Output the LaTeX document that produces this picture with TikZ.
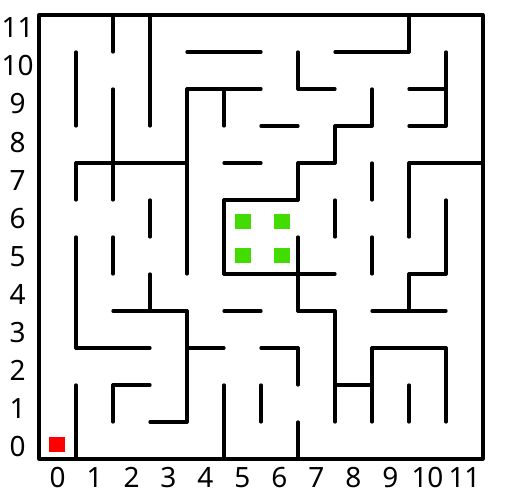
\documentclass[tikz,border=0pt]{standalone}
\usepackage{fontspec}
\setmainfont{Noto Sans}
\definecolor{goalgreen}{RGB}{66,220,0}
\definecolor{startred}{RGB}{255,0,0}

\begin{document}
\begin{tikzpicture}[x=1cm,y=1cm,
  wall/.style={line width=2.5pt,line cap=round,line join=round},
  lbl/.style={inner sep=0pt,font=\fontsize{21.5}{24}\selectfont},
  cellmark/.style={minimum width=4.3mm,minimum height=4.1mm,inner sep=0pt}]
  \useasboundingbox (-1.054,-1.0) rectangle (12.730,12.405);
  \draw[wall] (0,0) rectangle (12,12);
  \foreach \y/\a/\b in {11/4/6,11/8/10,10/4/6,10/7/8,10/10/11,9/6/7,9/8/9,9/10/11,
      8/1/4,8/5/6,8/7/8,8/10/12,7/5/7,5/5/8,5/10/11,4/2/4,4/5/6,4/7/8,4/9/11,
      3/1/3,3/4/5,3/6/7,3/9/11,2/2/3,2/8/9,1/3/4}
    \draw[wall] (\a,\y) -- (\b,\y);
  \foreach \x/\a/\b in {1/9/11,1/7/8,1/3/6,1/0/2,2/11/12,2/7/10,2/5/6,2/1/2,
      3/9/12,3/6/7,3/4/5,4/5/10,4/1/4,5/9/10,5/5/7,5/0/2,6/1/2,
      7/10/11,7/7/8,7/4/6,7/2/3,7/0/1,8/8/9,8/6/7,8/1/4,
      9/9/10,9/7/8,9/5/6,9/1/3,10/11/12,10/6/8,10/4/5,10/1/2,11/9/11,11/5/7,11/1/3}
    \draw[wall] (\x,\a) -- (\x,\b);
  \node[cellmark,fill=startred] (start) at (0.49,0.38) {};
  \node[cellmark,fill=goalgreen] (goalA) at (5.51,6.42) {};
  \node[cellmark,fill=goalgreen] (goalB) at (6.57,6.42) {};
  \node[cellmark,fill=goalgreen] (goalC) at (5.51,5.51) {};
  \node[cellmark,fill=goalgreen] (goalD) at (6.57,5.51) {};
  \foreach \i in {0,...,11}{
    \node[lbl] (xl\i) at (\i+0.5,-0.5) {\i};
    \node[lbl] (yl\i) at (-0.58,0.324+1.03*\i) {\i};
  }
\end{tikzpicture}
\end{document}
